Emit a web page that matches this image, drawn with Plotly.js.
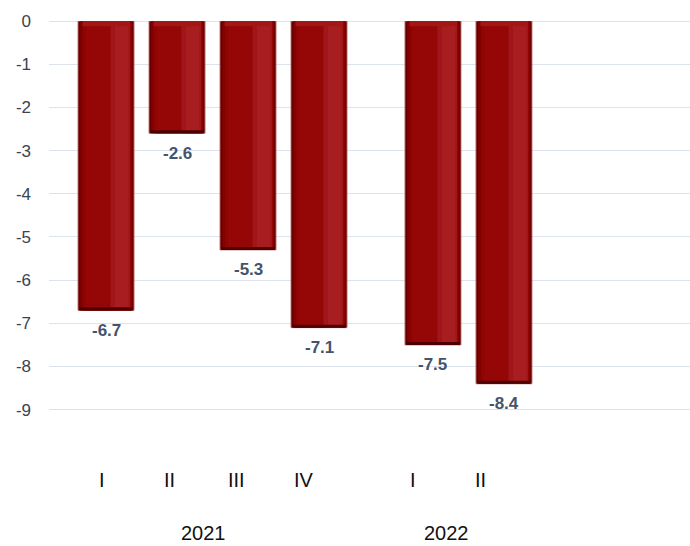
<!DOCTYPE html>
<html>
<head>
<meta charset="utf-8">
<script src="https://cdn.plot.ly/plotly-3.0.1.min.js"></script>
<style>html,body{margin:0;padding:0;background:#fff;}#chart{width:690px;height:546px;}</style>
</head>
<body>
<div id="chart"></div>
<script>
// ---- data ----
const quarters = ['I', 'II', 'III', 'IV', 'I', 'II'];
const years = ['2021', '2021', '2021', '2021', '2022', '2022'];
const values = [-6.7, -2.6, -5.3, -7.1, -7.5, -8.4];
const yearLabels = ['2021', '2022'];
const yTickVals = [0, -1, -2, -3, -4, -5, -6, -7, -8, -9];
const yTickText = ['0', '-1', '-2', '-3', '-4', '-5', '-6', '-7', '-8', '-9'];

// ---- layout helpers ----
const GROUP_GAP = 0.605;
const groupIndex = years.map(y => yearLabels.indexOf(y));
const pos = values.map((v, i) => i + GROUP_GAP * groupIndex[i]);
const W = 0.789;
const FONT = 'Arial, "Liberation Sans", sans-serif';

function band(from, to, color, extra) {
  return Object.assign({
    type: 'bar', x: pos, y: values,
    width: W * (to - from), offset: -W / 2 + W * from,
    marker: {color: color, line: {width: 0}},
    hoverinfo: 'skip', showlegend: false
  }, extra || {});
}

const traces = [
  band(0, 1, '#650000', {marker: {color: '#650000', line: {color: 'rgba(190,110,110,0.9)', width: 1}}}),
  band(0.04, 0.97, '#820202'),
  band(0.09, 0.955, '#900404'),
  band(0.14, 0.94, '#950606'),
  band(0.58, 0.93, '#a0161a'),
  band(0.66, 0.9, '#a81d20'),
  // top bevel highlight
  Object.assign(band(0.08, 0.92, '#a31616'), {y: values.map(() => -0.12)}),
  // bottom dark bevel
  Object.assign(band(0.02, 0.98, '#4e0000'), {y: values.map(() => -0.07), base: values.map(v => v + 0.07)})
];

const annotations = [];
values.forEach((v, i) => {
  annotations.push({
    x: pos[i], y: v, xref: 'x', yref: 'y', text: '<b>' + v.toFixed(1) + '</b>',
    showarrow: false, yanchor: 'middle', yshift: -20,
    font: {family: FONT, size: 17, color: '#44546a'}
  });
  annotations.push({
    x: 0.95 * pos[i] - 0.056, y: -0.1305, xref: 'x', yref: 'paper', text: quarters[i],
    showarrow: false, yanchor: 'middle',
    font: {family: FONT, size: 20, color: '#111111'}
  });
});
yearLabels.forEach(yr => {
  const ps = pos.filter((p, i) => years[i] === yr).map(p => 0.95 * p - 0.056);
  const c = (Math.min(...ps) + Math.max(...ps)) / 2;
  annotations.push({
    x: c, y: -0.261, xref: 'x', yref: 'paper', text: yr,
    showarrow: false, yanchor: 'middle',
    font: {family: FONT, size: 20, color: '#111111'}
  });
});

const layout = {
  width: 690, height: 546,
  margin: {l: 49, r: 0, t: 21, b: 119},
  paper_bgcolor: '#ffffff', plot_bgcolor: '#ffffff',
  barmode: 'overlay',
  showlegend: false,
  xaxis: {
    type: 'linear', range: [-0.803, 8.225],
    showgrid: false, zeroline: false, showline: false, showticklabels: false, ticks: ''
  },
  yaxis: {
    range: [-9.4, 0], tickmode: 'array', tickvals: yTickVals, ticktext: yTickText,
    showgrid: true, gridcolor: '#dde3ec', gridwidth: 1,
    zeroline: true, zerolinecolor: '#dde3ec', zerolinewidth: 1,
    showline: false, ticks: '', ticklabelstandoff: 17,
    tickfont: {family: FONT, size: 17, color: '#3b4250'}
  },
  annotations: annotations
};

Plotly.newPlot('chart', traces, layout, {displayModeBar: false, staticPlot: true});
</script>
</body>
</html>
